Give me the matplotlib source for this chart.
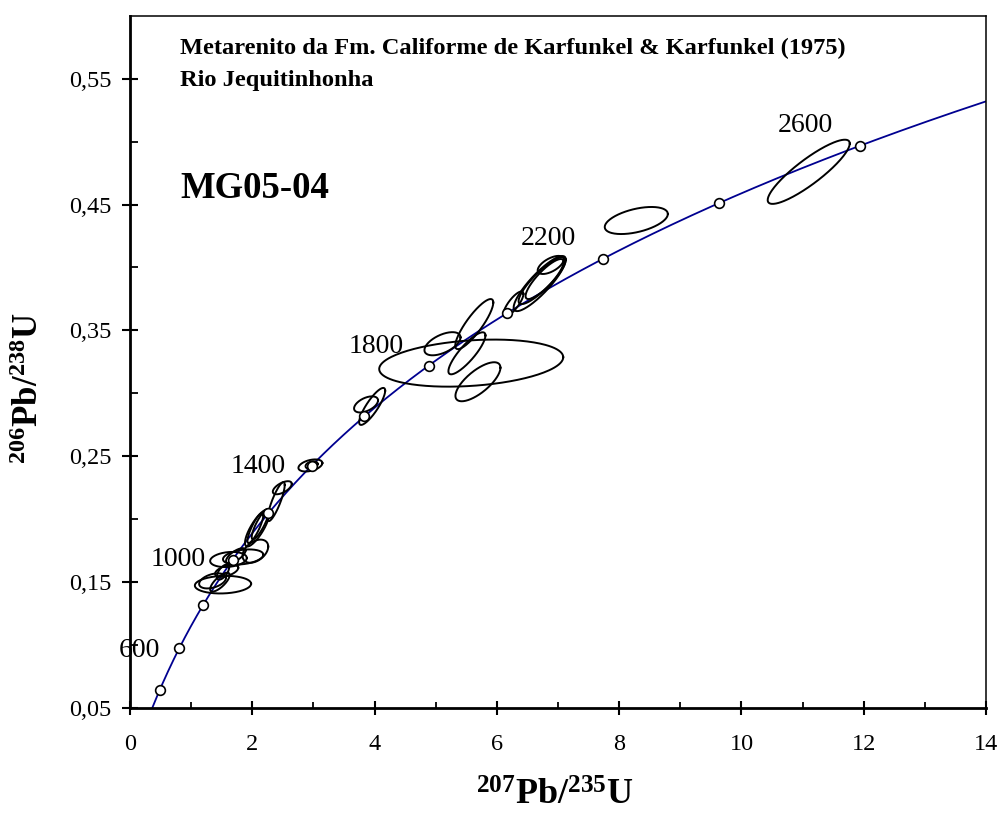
import numpy as np
import matplotlib
matplotlib.use("Agg")
import matplotlib.pyplot as plt
from matplotlib.ticker import MultipleLocator, FuncFormatter

plt.rcParams["font.family"] = ["Liberation Serif", "DejaVu Serif"]
plt.rcParams["mathtext.fontset"] = "custom"
plt.rcParams["mathtext.rm"] = "Liberation Serif"
plt.rcParams["mathtext.bf"] = "Liberation Serif:bold"

# decay constants (per year)
L238 = 1.55125e-10
L235 = 9.8485e-10

# ages marked on the concordia (Ma) and the labelled ones
marker_ages = [400, 600, 800, 1000, 1200, 1400, 1600, 1800, 2000, 2200, 2400, 2600]
label_ages = ["600", "1000", "1400", "1800", "2200", "2600"]
label_x = [0.16, 0.79, 2.10, 4.03, 6.84, 11.05]
label_y = [0.096, 0.168, 0.242, 0.337, 0.423, 0.513]

# zircon analyses: 207Pb/235U, 1s, 206Pb/238U, 1s, rho
ell_x = [1.52, 1.35, 1.47, 1.58, 1.52, 1.61, 1.85, 2.05, 1.73, 2.08, 2.13, 2.05, 2.39, 2.49,
         2.95, 2.97, 3.86, 3.96, 5.58, 5.11, 5.63, 5.51, 5.69,
         6.27, 6.70, 6.74, 6.78, 6.88, 8.28, 11.10]
ell_sx = [0.46, 0.22, 0.16, 0.19, 0.10, 0.30, 0.33, 0.21, 0.16, 0.20, 0.14, 0.13, 0.14, 0.155,
          0.196, 0.10, 0.196, 0.213, 1.505, 0.295, 0.311, 0.303, 0.368,
          0.164, 0.426, 0.385, 0.311, 0.213, 0.516, 0.671]
ell_y = [0.148, 0.151, 0.150, 0.159, 0.158, 0.168, 0.170, 0.1746, 0.171, 0.193, 0.196, 0.193, 0.214, 0.225,
         0.2427, 0.243, 0.2912, 0.2896, 0.324, 0.3394, 0.355, 0.3318, 0.3092,
         0.371, 0.3872, 0.3896, 0.3908, 0.402, 0.4373, 0.476]
ell_sy = [0.007, 0.006, 0.0075, 0.0048, 0.006, 0.006, 0.006, 0.0092, 0.006, 0.0147, 0.012, 0.012, 0.0155, 0.0052,
          0.0048, 0.003, 0.0064, 0.0147, 0.0187, 0.0092, 0.0199, 0.0167, 0.0155,
          0.00995, 0.0219, 0.0187, 0.0159, 0.0072, 0.01075, 0.0255]
ell_rho = [0.1, 0.4, 0.75, 0.5, 0.6, 0.2, 0.3, 0.4, 0.7, 0.8, 0.85, 0.85, 0.85, 0.6,
           0.4, 0.3, 0.5, 0.85, 0.25, 0.55, 0.86, 0.85, 0.72,
           0.8, 0.87, 0.87, 0.85, 0.6, 0.48, 0.88]


def concordia(t_ma):
    t = np.asarray(t_ma) * 1e6
    return np.exp(L235 * t) - 1, np.exp(L238 * t) - 1


fig = plt.figure(figsize=(9.98, 8.14), dpi=100)
ax = fig.add_axes([0.1303, 0.1302, 0.8577, 0.8505])

# concordia curve
t = np.linspace(0, 2800, 600)
cx, cy = concordia(t)
ax.plot(cx, cy, color="#000090", linewidth=1.3, zorder=2)

# error ellipses
s = np.linspace(0, 2 * np.pi, 200)
for x0, sx, y0, sy, r in zip(ell_x, ell_sx, ell_y, ell_sy, ell_rho):
    ex = x0 + sx * np.cos(s)
    ey = y0 + sy * (r * np.cos(s) + np.sqrt(1 - r * r) * np.sin(s))
    ax.plot(ex, ey, color="black", linewidth=1.4, zorder=3)

mx, my = concordia(marker_ages)
ax.plot(mx, my, "o", markersize=7, markerfacecolor="white", markeredgecolor="black",
        markeredgewidth=1.2, zorder=4)

for lab, lx, ly in zip(label_ages, label_x, label_y):
    ax.text(lx, ly, lab, fontsize=20, ha="center", va="center", zorder=5)

ax.text(0.82, 0.574, "Metarenito da Fm. Califorme de Karfunkel & Karfunkel (1975)",
        fontsize=17.6, fontweight="bold", va="center")
ax.text(0.82, 0.5484, "Rio Jequitinhonha", fontsize=17.6, fontweight="bold", va="center")
ax.text(0.82, 0.4624, "MG05-04", fontsize=26.5, fontweight="bold", va="center")

ax.set_xlim(0, 14)
ax.set_ylim(0.05, 0.60)
ax.xaxis.set_major_locator(MultipleLocator(2))
ax.xaxis.set_minor_locator(MultipleLocator(1))
ax.set_yticks([0.05, 0.15, 0.25, 0.35, 0.45, 0.55])
ax.set_yticks([0.10, 0.20, 0.30, 0.40, 0.50], minor=True)
ax.yaxis.set_major_formatter(FuncFormatter(lambda v, p: f"{v:.2f}".replace(".", ",")))

ax.tick_params(axis="x", which="major", direction="inout", length=9.5, width=1.5,
               labelsize=17.5, pad=14)
ax.tick_params(axis="y", which="major", direction="inout", length=11, width=1.5,
               labelsize=17.5, pad=8)
ax.tick_params(axis="x", which="minor", direction="in", length=4.3, width=1.3)
ax.tick_params(axis="y", which="minor", direction="in", length=5.8, width=1.3)

ax.spines["left"].set_linewidth(2.0)
ax.spines["bottom"].set_linewidth(2.0)
ax.spines["top"].set_linewidth(1.1)
ax.spines["right"].set_linewidth(1.1)

fig.text(0.556, 0.022, r"$\mathbf{^{207}Pb/^{235}U}$", fontsize=26, ha="center", va="center")
fig.text(0.030, 0.523, r"$\mathbf{^{206}Pb/^{238}U}$", fontsize=25, ha="center", va="center",
         rotation=90)

fig.savefig("out.png", dpi=100)
